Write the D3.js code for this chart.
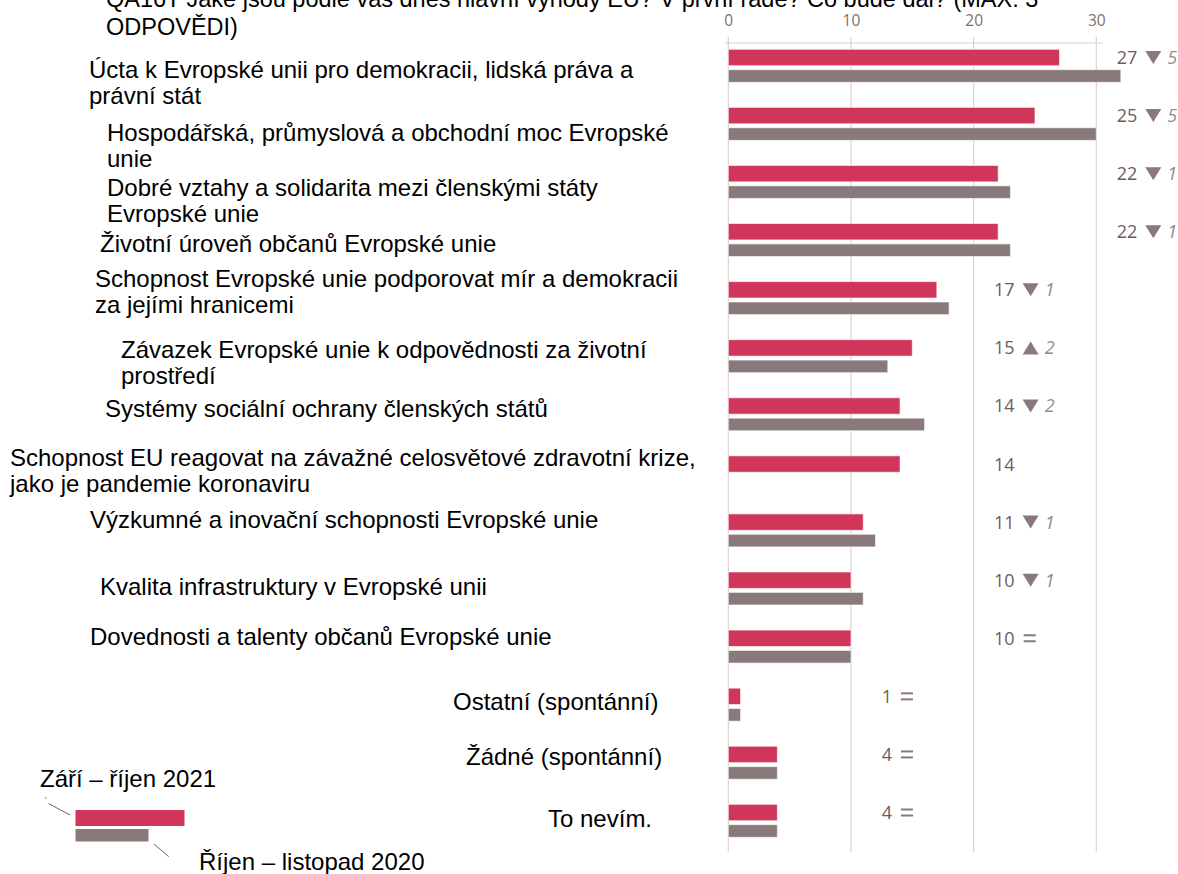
<!DOCTYPE html>
<html>
<head>
<meta charset="utf-8">
<script src="https://cdn.jsdelivr.net/npm/d3@7"></script>
<style>
	body { margin: 0; background: #FFFFFF; }
	#vis_container { width: 1178px; height: 874px; overflow: hidden; }
</style>
</head>
<body>
<div id="vis_container"></div>
<script>

var titleLines = [
	"QA16T Jaké jsou podle vás dnes hlavní výhody EU? V první řadě? Co bude dál? (MAX. 3",
	"ODPOVĚDI)"
];

var categories = [
	"Úcta k Evropské unii pro demokracii, lidská práva a\nprávní stát",
	"Hospodářská, průmyslová a obchodní moc Evropské\nunie",
	"Dobré vztahy a solidarita mezi členskými státy\nEvropské unie",
	"Životní úroveň občanů Evropské unie",
	"Schopnost Evropské unie podporovat mír a demokracii\nza jejími hranicemi",
	"Závazek Evropské unie k odpovědnosti za životní\nprostředí",
	"Systémy sociální ochrany členských států",
	"Schopnost EU reagovat na závažné celosvětové zdravotní krize,\njako je pandemie koronaviru",
	"Výzkumné a inovační schopnosti Evropské unie",
	"Kvalita infrastruktury v Evropské unii",
	"Dovednosti a talenty občanů Evropské unie",
	"Ostatní (spontánní)",
	"Žádné (spontánní)",
	"To nevím."
];

var seriesNames = ["Září – říjen 2021", "Říjen – listopad 2020"];

var values2021 = [27, 25, 22, 22, 17, 15, 14, 14, 11, 10, 10, 1, 4, 4];
var values2020 = [32, 30, 23, 23, 18, 13, 16, null, 12, 11, 10, 1, 4, 4];
// change vs. 2020, null = no comparison
var changes = [-5, -5, -1, -1, -1, 2, -2, null, -1, -1, 0, 0, 0, 0];

var xTicks = [0, 10, 20, 30];

// hand placed label boxes (x of text, baseline offset from top of group)
var labelX = [89, 107, 107, 100, 95, 121, 105, 10, 90, 100, 90, 453, 466, 548];
var labelDy = [29, 34, 31, 28, 5, 18, 19, 10, 14, 23, 15, 22, 19, 23];

var chart = {};
chart.width = 1178;
chart.height = 874;
chart.red = "#D0365A";
chart.grey = "#89797B";
chart.gridColor = "#DAD2CF";
chart.textFont = "'Liberation Sans', Arial, sans-serif";
chart.numFont = "'Open Sans', 'Noto Sans', sans-serif";
chart.fontSize = 24;

chart.svg = d3.select("#vis_container").append("svg")
	.attr("width", chart.width)
	.attr("height", chart.height)
	.style("background-color", "#FFFFFF");

chart.x = d3.scaleLinear()
	.domain([0, 30])
	.range([728.3, 1096.3]);

chart.y = d3.scaleBand()
	.domain(d3.range(categories.length))
	.range([49.3, 837.3])
	.paddingInner(0.432)
	.paddingOuter(0);

var bw = chart.y.bandwidth();

// title
chart.svg.append("g")
	.selectAll("text")
	.data(titleLines)
	.enter().append("text")
		.attr("x", 106)
		.attr("y", function(d, i) { return 7 + i * 28; })
		.attr("font-family", chart.textFont)
		.attr("font-size", 23.5)
		.attr("fill", "#000000")
		.text(function(d) { return d; });

// gridlines
chart.svg.append("g")
	.selectAll("line")
	.data(xTicks)
	.enter().append("line")
		.attr("x1", function(d) { return chart.x(d); })
		.attr("x2", function(d) { return chart.x(d); })
		.attr("y1", 37)
		.attr("y2", 852)
		.attr("stroke", chart.gridColor)
		.attr("stroke-width", 1.2);

chart.svg.append("line")
	.attr("x1", 725)
	.attr("x2", 1103)
	.attr("y1", 43)
	.attr("y2", 43)
	.attr("stroke", chart.gridColor)
	.attr("stroke-width", 1.2);

// tick labels
var xAxis = d3.axisTop(chart.x)
	.tickValues(xTicks)
	.tickSize(0)
	.tickPadding(0);

var axisG = chart.svg.append("g")
	.attr("transform", "translate(0,26)")
	.call(xAxis);
axisG.select(".domain").remove();
axisG.selectAll("text")
	.attr("font-family", chart.numFont)
	.attr("font-size", 15.5)
	.attr("fill", "#7D7072")
	.attr("dy", 0);

// bars
var groups = chart.svg.append("g")
	.selectAll("g")
	.data(categories)
	.enter().append("g")
		.attr("transform", function(d, i) { return "translate(0," + chart.y(i) + ")"; });

groups.append("rect")
	.attr("x", chart.x(0))
	.attr("y", 0)
	.attr("width", function(d, i) { return chart.x(values2021[i]) - chart.x(0); })
	.attr("height", bw * 0.497)
	.attr("fill", chart.red)
	.attr("stroke", "#FFFFFF")
	.attr("stroke-opacity", 0.6)
	.attr("stroke-width", 1);

groups.filter(function(d, i) { return values2020[i] != null; })
	.append("rect")
	.attr("x", chart.x(0))
	.attr("y", bw * 0.618)
	.attr("width", function(d) { var i = categories.indexOf(d); return chart.x(values2020[i]) - chart.x(0); })
	.attr("height", bw * 0.382)
	.attr("fill", chart.grey)
	.attr("stroke", "#FFFFFF")
	.attr("stroke-opacity", 0.6)
	.attr("stroke-width", 1);

// category labels
groups.each(function(d, i) {
	var lines = d.split("\n");
	var t = d3.select(this).append("text")
		.attr("font-family", chart.textFont)
		.attr("font-size", chart.fontSize)
		.attr("fill", "#000000");
	lines.forEach(function(line, j) {
		t.append("tspan")
			.attr("x", labelX[i])
			.attr("y", labelDy[i] + j * 26)
			.text(line);
	});
});

// value + change annotations
groups.each(function(d, i) {
	var g = d3.select(this);
	var v = values2021[i];
	var cy = bw * 0.497 / 2;
	var nx = chart.x(Math.floor(v / 10) * 10 + 10) + 41;

	g.append("text")
		.attr("x", nx)
		.attr("y", cy)
		.attr("dy", "0.36em")
		.attr("text-anchor", "end")
		.attr("font-family", chart.numFont)
		.attr("font-size", 18)
		.attr("fill", "#6A5D5F")
		.text(v);

	var c = changes[i];
	if (c == null) return;

	if (c == 0) {
		[-3, 3].forEach(function(off) {
			g.append("rect")
				.attr("x", nx + 9)
				.attr("y", cy + off - 1)
				.attr("width", 12)
				.attr("height", 2)
				.attr("fill", chart.grey);
		});
		return;
	}

	var tx = nx + 16;
	var pts = c < 0
		? [[tx - 8, cy - 6.5], [tx + 8, cy - 6.5], [tx, cy + 6.5]]
		: [[tx - 8, cy + 6.5], [tx + 8, cy + 6.5], [tx, cy - 6.5]];
	g.append("path")
		.attr("d", d3.line()(pts) + "Z")
		.attr("fill", chart.grey);

	g.append("text")
		.attr("x", tx + 14)
		.attr("y", cy)
		.attr("dy", "0.36em")
		.attr("font-family", chart.numFont)
		.attr("font-size", 18)
		.attr("font-style", "italic")
		.attr("fill", "#968A8C")
		.text(Math.abs(c));
});

// legend
var legend = chart.svg.append("g");

legend.append("text")
	.attr("x", 40)
	.attr("y", 787)
	.attr("font-family", chart.textFont)
	.attr("font-size", chart.fontSize)
	.text(seriesNames[0]);

legend.append("text")
	.attr("x", 199)
	.attr("y", 870)
	.attr("font-family", chart.textFont)
	.attr("font-size", chart.fontSize)
	.text(seriesNames[1]);

legend.append("rect")
	.attr("x", 75.5).attr("y", 810)
	.attr("width", 109).attr("height", 16)
	.attr("fill", chart.red);

legend.append("rect")
	.attr("x", 75.5).attr("y", 829)
	.attr("width", 73).attr("height", 12.5)
	.attr("fill", chart.grey);

legend.append("circle")
	.attr("cx", 45.7).attr("cy", 798).attr("r", 0.8)
	.attr("fill", "#777777");

legend.append("line")
	.attr("x1", 48.5).attr("y1", 803.5).attr("x2", 70).attr("y2", 815)
	.attr("stroke", "#666666").attr("stroke-width", 1);

legend.append("line")
	.attr("x1", 154).attr("y1", 844).attr("x2", 168.7).attr("y2", 856.7)
	.attr("stroke", "#666666").attr("stroke-width", 1);

</script>
</body>
</html>
